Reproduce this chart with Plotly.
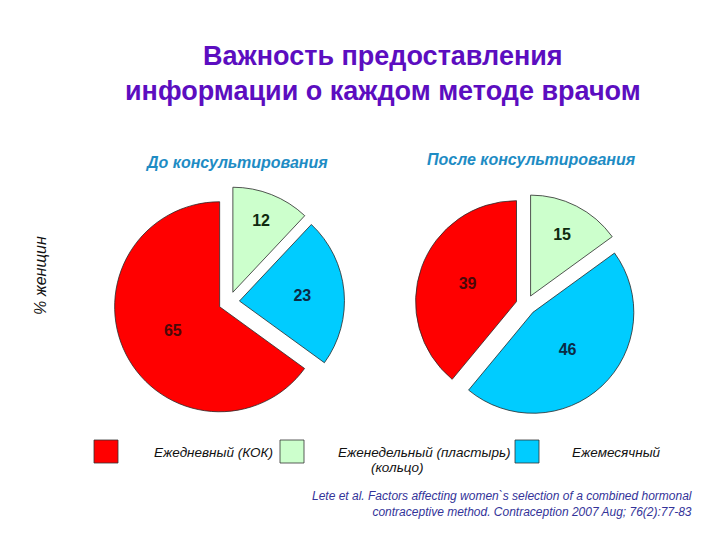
import plotly.graph_objects as go

categories = ["Еженедельный (пластырь)", "Ежемесячный", "Ежедневный (КОК)"]
before_values = [12, 23, 65]
after_values = [15, 46, 39]
slice_colors = ["#CCFFCC", "#00CCFF", "#FF0000"]
label_colors = ["#0f2a0f", "#0b2a44", "#4a0808"]

title_text = "Важность предоставления<br>информации о каждом методе врачом"
subtitle_before = "До консультирования"
subtitle_after = "После консультирования"
axis_label = "% женщин"
citation = ("Lete et al. Factors affecting women`s selection of a combined hormonal<br>"
            "contraceptive method. Contraception 2007 Aug; 76(2):77-83")

W, H = 720, 540

def px_dom(x0, x1, y0, y1):
    return dict(x=[x0 / W, x1 / W], y=[1 - y1 / H, 1 - y0 / H])

fig = go.Figure()
common = dict(
    labels=categories,
    sort=False,
    direction="clockwise",
    rotation=0,
    pull=[0.1, 0.1, 0.1],
    marker=dict(colors=slice_colors, line=dict(color="#2a2a2a", width=0.8)),
    texttemplate="<b>%{value}</b>",
    textposition="inside",
    insidetextorientation="horizontal",
    textfont=dict(family="Liberation Sans, Arial", size=16, color=label_colors),
    hoverinfo="skip",
    showlegend=False,
)
fig.add_trace(go.Pie(values=before_values, domain=px_dom(113.5, 344.5, 186.5, 417.5), **common))
fig.add_trace(go.Pie(values=after_values, domain=px_dom(415, 637, 194, 416), **common))

ann = []
ann.append(dict(text="<b>" + title_text + "</b>", x=383 / W, y=1 - 73 / H, xref="paper", yref="paper",
                showarrow=False, font=dict(family="Liberation Sans, Arial", size=27, color="#5C0DC0"),
                xanchor="center", yanchor="middle"))
ann.append(dict(text="<b><i>" + subtitle_before + "</i></b>", x=236 / W, y=1 - 163 / H, xref="paper", yref="paper",
                showarrow=False, font=dict(family="Liberation Sans, Arial", size=16, color="#1E8CC4"),
                xanchor="center", yanchor="middle"))
ann.append(dict(text="<b><i>" + subtitle_after + "</i></b>", x=531 / W, y=1 - 159 / H, xref="paper", yref="paper",
                showarrow=False, font=dict(family="Liberation Sans, Arial", size=16, color="#1E8CC4"),
                xanchor="center", yanchor="middle"))
ann.append(dict(text="<i>" + axis_label + "</i>", x=40 / W, y=1 - 276 / H, xref="paper", yref="paper",
                showarrow=False, textangle=-90, font=dict(family="Liberation Sans, Arial", size=16, color="#111111"),
                xanchor="center", yanchor="middle"))
ann.append(dict(text="<i>" + citation + "</i>", x=694 / W, y=1 - 504 / H, xref="paper", yref="paper",
                showarrow=False, align="right", font=dict(family="Liberation Sans, Arial", size=12, color="#333399"),
                xanchor="right", yanchor="middle"))

# legend (manual, to match the slide layout)
legend_order = [2, 0, 1]
box_x = [94, 280, 515]
text_x = [152, 336, 570]
shapes = []
for k, idx in enumerate(legend_order):
    shapes.append(dict(type="rect", xref="paper", yref="paper",
                       x0=box_x[k] / W, x1=(box_x[k] + 24) / W, y0=1 - 463 / H, y1=1 - 440 / H,
                       fillcolor=slice_colors[idx], line=dict(color="#333333", width=0.8)))
    ann.append(dict(text="<i>" + categories[idx] + "</i>", x=text_x[k] / W, y=1 - 452 / H, xref="paper", yref="paper",
                    showarrow=False, font=dict(family="Liberation Sans, Arial", size=13.5, color="#111111"),
                    xanchor="left", yanchor="middle"))
ann.append(dict(text="<i>(кольцо)</i>", x=369 / W, y=1 - 467 / H, xref="paper", yref="paper",
                showarrow=False, font=dict(family="Liberation Sans, Arial", size=13.5, color="#111111"),
                xanchor="left", yanchor="middle"))

fig.update_layout(
    width=W, height=H,
    margin=dict(l=0, r=0, t=0, b=0),
    paper_bgcolor="white", plot_bgcolor="white",
    annotations=ann, shapes=shapes,
)

fig.write_html("out.html")
